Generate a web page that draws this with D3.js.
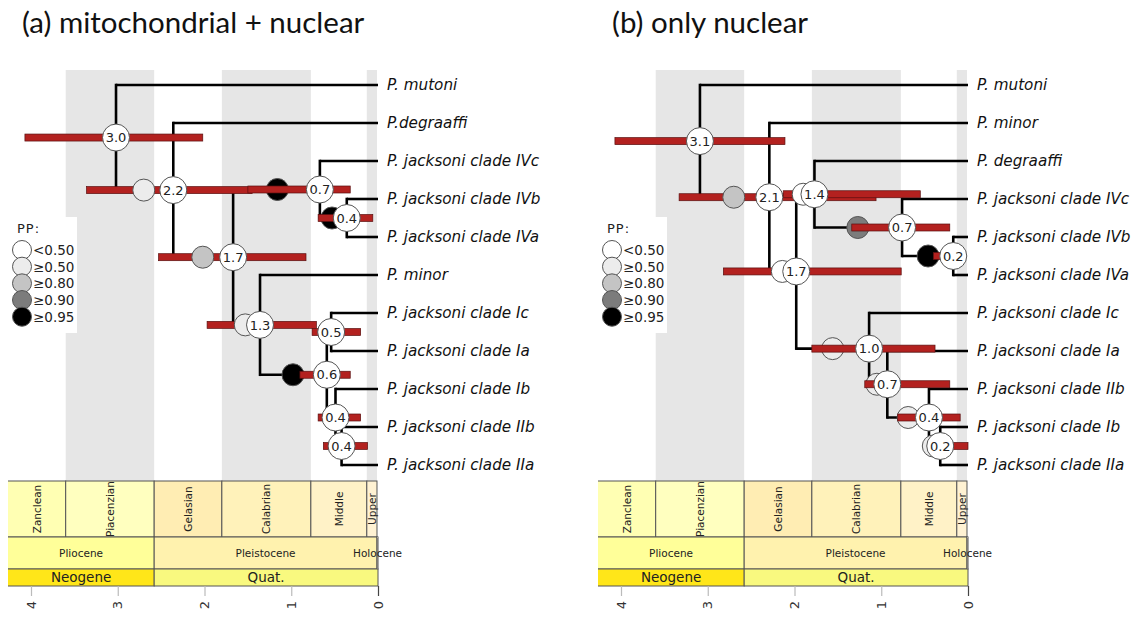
<!DOCTYPE html>
<html><head><meta charset="utf-8">
<script src="https://cdn.jsdelivr.net/npm/d3@7"></script>
<style>body{margin:0;background:#fff} svg{display:block}</style>
</head><body>
<svg id="chart" width="1139" height="619"></svg>
<script>
// ---------- data ----------
const tickValues = [4, 3, 2, 1, 0];
const stageNames  = ["Zanclean", "Piacenzian", "Gelasian", "Calabrian", "Middle", "Upper"];
const stageBounds = [[5.333, 3.6], [3.6, 2.58], [2.58, 1.8], [1.8, 0.774], [0.774, 0.129], [0.129, 0.0117]];
const epochNames  = ["Pliocene", "Pleistocene", "Holocene"];
const epochBounds = [[5.333, 2.58], [2.58, 0.0117], [0.0117, 0]];
const periodNames  = ["Neogene", "Quat."];
const periodBounds = [[23.03, 2.58], [2.58, 0]];
const ppClassLabels = ["<0.50", "\u22650.50", "\u22650.80", "\u22650.90", "\u22650.95"];
const ppClassValues = [0.4, 0.6, 0.85, 0.92, 0.99];

const titleA = "(a) mitochondrial + nuclear";
const tipsA = ["P. mutoni", "P.degraaffi", "P. jacksoni clade IVc", "P. jacksoni clade IVb",
  "P. jacksoni clade IVa", "P. minor", "P. jacksoni clade Ic", "P. jacksoni clade Ia",
  "P. jacksoni clade Ib", "P. jacksoni clade IIb", "P. jacksoni clade IIa"];
// age = node position (Ma), label = printed age, hpd = 95% HPD (Ma), ppAge = position of PP marker, pp = posterior probability
const nodesA = [
  {id: "a1",  children: ["P. mutoni", "a2"], age: 3.02, label: "3.0", hpd: [4.07, 2.02], ppAge: 3.02, pp: 0.99},
  {id: "a2",  children: ["P.degraaffi", "a3"], age: 2.36, label: "2.2", hpd: [3.36, 1.45], ppAge: 2.70, pp: 0.6},
  {id: "a3",  children: ["a4", "a6"], age: 1.67, label: "1.7", hpd: [2.53, 0.83], ppAge: 2.02, pp: 0.85},
  {id: "a4",  children: ["P. jacksoni clade IVc", "a5"], age: 0.67, label: "0.7", hpd: [1.50, 0.32], ppAge: 1.16, pp: 0.99},
  {id: "a5",  children: ["P. jacksoni clade IVb", "P. jacksoni clade IVa"], age: 0.36, label: "0.4", hpd: [0.69, 0.06], ppAge: 0.53, pp: 0.99},
  {id: "a6",  children: ["P. minor", "a7"], age: 1.36, label: "1.3", hpd: [1.97, 0.71], ppAge: 1.53, pp: 0.6},
  {id: "a7",  children: ["a8", "a9"], age: 0.59, label: "0.6", hpd: [0.90, 0.32], ppAge: 0.98, pp: 0.99},
  {id: "a8",  children: ["P. jacksoni clade Ic", "P. jacksoni clade Ia"], age: 0.54, label: "0.5", hpd: [0.76, 0.20], ppAge: 0.54, pp: 0.6},
  {id: "a9",  children: ["P. jacksoni clade Ib", "a10"], age: 0.49, label: "0.4", hpd: [0.69, 0.20], ppAge: 0.49, pp: 0.6},
  {id: "a10", children: ["P. jacksoni clade IIb", "P. jacksoni clade IIa"], age: 0.42, label: "0.4", hpd: [0.63, 0.12], ppAge: 0.42, pp: 0.6}
];

const titleB = "(b) only nuclear";
const tipsB = ["P. mutoni", "P. minor", "P. degraaffi", "P. jacksoni clade IVc", "P. jacksoni clade IVb",
  "P. jacksoni clade IVa", "P. jacksoni clade Ic", "P. jacksoni clade Ia", "P. jacksoni clade IIb",
  "P. jacksoni clade Ib", "P. jacksoni clade IIa"];
const nodesB = [
  {id: "b1",  children: ["P. mutoni", "b2"], age: 3.09, label: "3.1", hpd: [4.07, 2.11], ppAge: 3.09, pp: 0.99},
  {id: "b2",  children: ["P. minor", "b3"], age: 2.29, label: "2.1", hpd: [3.33, 1.06], ppAge: 2.70, pp: 0.85},
  {id: "b3",  children: ["b4", "b7"], age: 1.98, label: "1.7", hpd: [2.82, 0.77], ppAge: 2.14, pp: 0.4},
  {id: "b4",  children: ["P. degraaffi", "b5"], age: 1.77, label: "1.4", hpd: [2.13, 0.55], ppAge: 1.90, pp: 0.4},
  {id: "b5",  children: ["P. jacksoni clade IVc", "b6"], age: 0.76, label: "0.7", hpd: [1.34, 0.21], ppAge: 1.27, pp: 0.92},
  {id: "b6",  children: ["P. jacksoni clade IVb", "P. jacksoni clade IVa"], age: 0.17, label: "0.2", hpd: [0.40, 0.05], ppAge: 0.46, pp: 0.99},
  {id: "b7",  children: ["P. jacksoni clade Ic", "b8"], age: 1.14, label: "1.0", hpd: [1.80, 0.38], ppAge: 1.56, pp: 0.6},
  {id: "b8",  children: ["P. jacksoni clade Ia", "b9"], age: 0.93, label: "0.7", hpd: [1.19, 0.21], ppAge: 1.05, pp: 0.6},
  {id: "b9",  children: ["P. jacksoni clade IIb", "b10"], age: 0.45, label: "0.4", hpd: [0.81, 0.09], ppAge: 0.69, pp: 0.6},
  {id: "b10", children: ["P. jacksoni clade Ib", "P. jacksoni clade IIa"], age: 0.32, label: "0.2", hpd: [0.45, 0.0], ppAge: 0.40, pp: 0.6}
];

// ---------- styles ----------
const stageColors  = ["#FFFFB3", "#FFFFBF", "#FFEDB3", "#FFF2BA", "#FFF2C7", "#FFF2D3"];
const epochColors  = ["#FFFF99", "#FFF2AE", "#FEF2E0"];
const periodColors = ["#FFE619", "#F9F97F"];
function ppFill(p) {
  if (p < 0.5) return "#ffffff";
  if (p < 0.8) return "#ececec";
  if (p < 0.9) return "#c4c4c4";
  if (p < 0.95) return "#7c7c7c";
  return "#000000";
}

const svg = d3.select("#chart");
const SANS = "'DejaVu Sans', Verdana, sans-serif";

function panel(offset, title, tips, nodes) {
  const g = svg.append("g").attr("transform", `translate(${offset},0)`);
  const x = d3.scaleLinear().domain([4, 0]).range([31, 378]);
  const y = d3.scalePoint().domain(tips).range([85, 465]);

  // title
  g.append("text").attr("x", 22).attr("y", 33).text(title)
    .attr("font-family", "Lato, 'Open Sans', sans-serif").attr("font-size", 29.5).attr("fill", "#111");

  // alternating grey bands
  g.selectAll("rect.band").data(stageBounds.filter((d, i) => i % 2 === 1)).join("rect")
    .attr("class", "band")
    .attr("x", d => x(d[0])).attr("width", d => x(d[1]) - x(d[0]))
    .attr("y", 70).attr("height", 481 - 70).attr("fill", "#e6e6e6");

  // legend
  const lg = g.append("g");
  lg.append("rect").attr("x", 0).attr("y", 217).attr("width", 77).attr("height", 116).attr("fill", "#fff");
  lg.append("text").attr("x", 17).attr("y", 233).text("PP:").attr("letter-spacing", 1)
    .attr("font-family", SANS).attr("font-size", 13).attr("fill", "#222");
  const ly = d3.scaleLinear().domain([0, 4]).range([250, 316.7]);
  ppClassValues.forEach((v, i) => {
    lg.append("circle").attr("cx", 22).attr("cy", ly(i)).attr("r", 9.5)
      .attr("fill", ppFill(v)).attr("stroke", "#555").attr("stroke-width", 1);
  });
  ppClassLabels.forEach((t, i) => {
    lg.append("text").attr("x", 33).attr("y", ly(i)).attr("dy", "0.36em").text(t)
      .attr("font-family", SANS).attr("font-size", 13.5).attr("fill", "#222");
  });

  // positions
  const byId = new Map(nodes.map(n => [n.id, n]));
  const pos = new Map();
  function place(name) {
    if (byId.has(name)) {
      const n = byId.get(name);
      const ys = n.children.map(place);
      const yy = (ys[0] + ys[ys.length - 1]) / 2;
      pos.set(name, {x: x(n.age), y: yy});
      return yy;
    }
    pos.set(name, {x: x(0), y: y(name)});
    return y(name);
  }
  place(nodes[0].id);

  // branches
  const lines = g.append("g").attr("stroke", "#000").attr("stroke-width", 2.6).attr("fill", "none");
  nodes.forEach(n => {
    const p = pos.get(n.id);
    const cy = n.children.map(c => pos.get(c).y);
    lines.append("line").attr("x1", p.x).attr("x2", p.x)
      .attr("y1", d3.min(cy) - 1.3).attr("y2", d3.max(cy) + 1.3);
    n.children.forEach(c => {
      const q = pos.get(c);
      lines.append("line").attr("x1", p.x).attr("x2", q.x).attr("y1", q.y).attr("y2", q.y);
    });
  });

  // tip labels
  g.selectAll("text.tip").data(tips).join("text").attr("class", "tip")
    .attr("x", x(0) + 9).attr("y", d => y(d)).attr("dy", "0.36em").text(d => d)
    .attr("font-family", SANS).attr("font-size", 15.2).attr("font-style", "italic").attr("fill", "#111");

  const drawPP = sel => sel.append("circle")
    .attr("cx", d => x(d.ppAge)).attr("cy", d => pos.get(d.id).y).attr("r", 11)
    .attr("fill", d => ppFill(d.pp)).attr("stroke", "#555").attr("stroke-width", 1);

  // PP markers of younger nodes lie beneath the HPD bars
  const young = nodes.filter(n => n.age < 1.2), old = nodes.filter(n => n.age >= 1.2);
  young.forEach(n => drawPP(g.append("g").datum(n)));

  // HPD bars
  g.selectAll("rect.hpd").data(nodes).join("rect").attr("class", "hpd")
    .attr("x", d => x(d.hpd[0])).attr("width", d => x(d.hpd[1]) - x(d.hpd[0]))
    .attr("y", d => pos.get(d.id).y - 3.5).attr("height", 7)
    .attr("fill", "#b3211f").attr("stroke", "#5a1010").attr("stroke-width", 0.7);

  old.forEach(n => drawPP(g.append("g").datum(n)));

  // node age labels
  const nl = g.selectAll("g.nl").data(nodes).join("g").attr("class", "nl")
    .attr("transform", d => `translate(${pos.get(d.id).x},${pos.get(d.id).y})`);
  nl.append("circle").attr("r", 13.5).attr("fill", "#fff").attr("stroke", "#555").attr("stroke-width", 1);
  nl.append("text").attr("text-anchor", "middle").attr("dy", "0.36em").text(d => d.label)
    .attr("font-family", SANS).attr("font-size", 13).attr("fill", "#222");

  // geological time scale
  const clipId = "clip" + offset;
  g.append("clipPath").attr("id", clipId).append("rect")
    .attr("x", 8).attr("y", 470).attr("width", x(0) - 8 + 1).attr("height", 130);
  const ts = g.append("g").attr("clip-path", `url(#${clipId})`);
  function row(names, bounds, colors, y0, y1, size, rotate) {
    bounds.forEach((b, i) => {
      ts.append("rect").attr("x", x(b[0])).attr("width", x(b[1]) - x(b[0]))
        .attr("y", y0).attr("height", y1 - y0)
        .attr("fill", colors[i]).attr("stroke", "#555").attr("stroke-width", 1);
    });
    bounds.forEach((b, i) => {
      const lo = Math.max(x(b[0]), 8), hi = x(b[1]);
      const cx = (lo + hi) / 2, cy = (y0 + y1) / 2;
      const t = g.append("text").text(names[i])
        .attr("font-family", SANS).attr("font-size", size).attr("fill", "#222")
        .attr("text-anchor", "middle").attr("dy", "0.36em");
      if (rotate) t.attr("transform", `translate(${cx},${cy}) rotate(-90)`);
      else t.attr("x", cx).attr("y", cy);
    });
  }
  row(stageNames, stageBounds, stageColors, 481, 537, 10.5, true);
  row(epochNames, epochBounds, epochColors, 537, 569, 10.5, false);
  row(periodNames, periodBounds, periodColors, 569, 586, 13.5, false);

  // axis
  const ax = g.append("g").attr("transform", "translate(0,586)")
    .call(d3.axisBottom(x).tickValues(tickValues).tickSize(10).tickFormat(""));
  ax.select(".domain").remove();
  ax.selectAll(".tick line").attr("stroke", d => d === 0 ? "#444" : "#bbb").attr("stroke-width", 1.2);
  g.selectAll("text.tickl").data(tickValues).join("text").attr("class", "tickl")
    .attr("transform", d => `translate(${x(d)},601) rotate(-90)`)
    .attr("text-anchor", "end").attr("dy", "0.36em").text(d => d)
    .attr("font-family", SANS).attr("font-size", 13).attr("fill", "#333");
}

panel(0, titleA, tipsA, nodesA);
panel(590, titleB, tipsB, nodesB);
</script>
</body></html>
